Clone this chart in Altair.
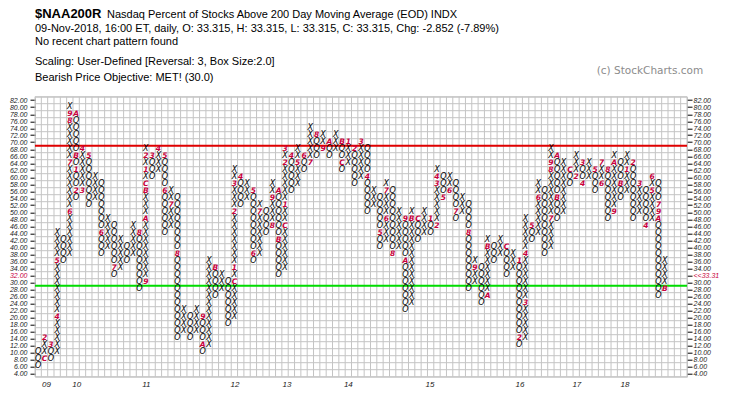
import altair as alt
import pandas as pd

# ---- point & figure columns (box size 2, reversal 3); bottom and top box of each column ----
col_type = ["O", "X"] * 50
col_low = [6, 8, 8, 10, 36, 38, 54, 56, 52, 54, 38, 40, 32, 34, 36, 38, 28, 30, 60, 62,
           44, 46, 14, 16, 14, 16, 10, 12, 26, 28, 18, 20, 52, 54, 36, 38, 44, 46, 32, 34,
           56, 58, 62, 64, 66, 68, 66, 68, 62, 64, 58, 60, 50, 52, 40, 42, 38, 40, 22, 24,
           42, 44, 44, 46, 54, 56, 48, 50, 28, 30, 24, 26, 36, 38, 32, 34, 12, 14, 42, 44,
           38, 40, 48, 50, 58, 60, 58, 60, 56, 58, 48, 50, 54, 56, 48, 50, 46, 48, 26, 28]
col_high = [10, 14, 12, 44, 42, 80, 78, 68, 66, 60, 58, 48, 46, 42, 40, 46, 44, 68, 66, 68,
            66, 56, 54, 22, 20, 22, 20, 36, 34, 32, 30, 62, 60, 58, 56, 52, 50, 58, 56, 68,
            66, 68, 66, 74, 72, 72, 70, 72, 70, 70, 68, 70, 68, 56, 54, 58, 56, 50, 48, 50,
            48, 50, 48, 62, 60, 60, 58, 54, 52, 36, 34, 42, 40, 42, 40, 38, 36, 48, 46, 58,
            56, 68, 66, 64, 62, 66, 64, 64, 62, 64, 62, 66, 64, 66, 64, 58, 56, 60, 58, 36]

# month markers: column, box value, month code (1-9, A=Oct, B=Nov, C=Dec)
mk_col = [2, 2, 3, 4, 4, 6, 6, 6, 6, 7, 7, 7, 7, 8, 8, 9, 11, 13, 17, 18, 18, 18, 18, 18,
          18, 19, 20, 21, 21, 22, 23, 27, 27, 29, 32, 32, 32, 32, 33, 35, 35, 36, 38, 38,
          39, 39, 40, 40, 40, 40, 41, 42, 43, 44, 45, 46, 47, 49, 49, 50, 51, 52, 53,
          55, 56, 56, 57, 59, 59, 60, 61, 63, 64, 64, 64, 65, 66, 67, 69, 70, 72, 72, 75,
          77, 77, 78, 78, 79, 80, 82, 82, 82, 83, 83, 85, 86, 87, 87, 89, 90, 90, 91, 92,
          92, 93, 94, 95, 96, 97, 98, 98, 99, 99, 99, 100]
mk_val = [8, 14, 12, 20, 36, 50, 64, 76, 78, 78, 66, 62, 56, 56, 68, 66, 44, 34, 44, 30,
          48, 56, 58, 62, 66, 66, 68, 66, 56, 52, 38, 20, 12, 34, 30, 34, 50, 58, 60, 56,
          38, 50, 46, 54, 56, 42, 46, 52, 64, 68, 66, 64, 66, 64, 72, 68, 70, 70, 64, 70,
          68, 70, 60, 44, 48, 56, 38, 48, 36, 48, 48, 48, 46, 58, 60, 54, 56, 50, 44, 34,
          26, 40, 40, 36, 14, 24, 38, 46, 54, 48, 62, 64, 66, 54, 62, 60, 64, 58, 62, 58,
          64, 62, 50, 64, 58, 62, 64, 58, 46, 56, 60, 52, 50, 48, 28]
mk_txt = ["C", "2", "3", "4", "5", "6", "7", "8", "9", "A", "B", "1", "2", "3", "4", "5",
          "6", "7", "8", "9", "A", "B", "C", "1", "2", "3", "4", "5", "6", "7", "8", "9",
          "A", "B", "C", "1", "2", "3", "4", "5", "6", "7", "8", "9", "A", "B", "C", "1",
          "2", "3", "4", "5", "6", "7", "8", "9", "A", "B", "C", "1", "2", "3", "4", "5",
          "6", "7", "8", "9", "A", "B", "C", "1", "2", "3", "4", "5", "6", "7", "8", "9",
          "A", "B", "C", "1", "2", "3", "4", "5", "6", "7", "8", "9", "A", "B", "C", "2",
          "3", "4", "5", "6", "7", "8", "9", "A", "B", "1", "2", "3", "4", "5", "6", "7",
          "9", "A", "B"]

year_lbl = ["09", "10", "11", "12", "13", "14", "15", "16", "17", "18"]
year_pos = [2.3, 7.1, 18.1, 32.1, 40.3, 50.0, 62.9, 77.1, 86.1, 93.7]

levels = [69, 29]
level_col = ["#e00000", "#00dd00"]

header = [
    "09-Nov-2018, 16:00 ET, daily, O: 33.315, H: 33.315, L: 33.315, C: 33.315, Chg: -2.852 (-7.89%)",
    "No recent chart pattern found",
    "Scaling: User-Defined [Reversal: 3, Box Size:2.0]",
    "Bearish Price Objective: MET! (30.0)",
]
header_y = [-65.2, -51.2, -31.7, -16.2]

# ---- build tables ----
marks = {(c, v): t for c, v, t in zip(mk_col, mk_val, mk_txt)}
rows = []
for i, (t, lo, hi) in enumerate(zip(col_type, col_low, col_high), start=1):
    for v in range(lo, hi + 1, 2):
        if (i, v) in marks:
            rows.append({"c": i, "v": v, "s": marks[(i, v)], "k": "m"})
        else:
            rows.append({"c": i, "v": v, "s": t, "k": "s"})
cells = pd.DataFrame(rows)

NCOL = 103
xs = alt.Scale(domain=[0.5, NCOL + 0.5], nice=False, zero=False)
ys = alt.Scale(domain=[3, 83], nice=False, zero=False)

vgrid = pd.DataFrame({"xb": [k + 0.5 for k in range(NCOL + 1)]})
hgrid = pd.DataFrame({"yb": [k for k in range(3, 84, 2)]})
lv = pd.DataFrame({"y": levels, "col": level_col})
yrs = pd.DataFrame({"c": year_pos, "t": year_lbl})
hd = pd.DataFrame({"t": header, "y": header_y})

GRID = "#c4c4c4"
RED = "#c8003c"
lab_font = "Liberation Sans"
yvals = list(range(4, 84, 2))
lab_color = {"condition": {"test": "datum.value == 32", "value": RED}, "value": "#222"}

vg = alt.Chart(vgrid).mark_rule(color=GRID, strokeWidth=1).encode(
    x=alt.X("xb:Q", scale=xs, axis=None))
hg = alt.Chart(hgrid).mark_rule(color=GRID, strokeWidth=1).encode(
    y=alt.Y("yb:Q", scale=ys, axis=alt.Axis(
        orient="right", values=yvals, grid=False, domain=False,
        tickSize=5, tickColor="#000", labelPadding=1,
        labelOverlap=False, labelFlush=False, labelBound=False,
        labelFont=lab_font, labelFontStyle="italic", labelFontSize=7,
        labelColor=lab_color,
        labelExpr="datum.value == 32 ? '<<33.31' : format(datum.value, '.2f')",
        labelBaseline="middle", title=None)))

lvl = alt.Chart(lv).mark_rule(strokeWidth=2).encode(
    y=alt.Y("y:Q", scale=ys, axis=None),
    color=alt.Color("col:N", scale=None))

sym = alt.Chart(cells).transform_filter("datum.k == 's'").mark_text(
    font="DejaVu Sans", fontSize=8, fontStyle="italic", color="#000",
    baseline="middle", align="center").encode(
    x=alt.X("c:Q", scale=xs, axis=None),
    y=alt.Y("v:Q", scale=ys, axis=alt.Axis(
        orient="left", values=yvals, format=".2f", grid=False, domain=False,
        tickSize=5, tickColor="#000", labelPadding=3,
        labelOverlap=False, labelFlush=False, labelBound=False,
        labelFont=lab_font, labelFontStyle="italic", labelFontSize=7,
        labelColor=lab_color, labelBaseline="middle", title=None)),
    text="s:N")

mk = alt.Chart(cells).transform_filter("datum.k == 'm'").mark_text(
    font="DejaVu Sans", fontSize=7.5, fontStyle="italic", fontWeight="bold",
    color=RED, baseline="middle", align="center").encode(
    x=alt.X("c:Q", scale=xs, axis=None),
    y=alt.Y("v:Q", scale=ys, axis=None),
    text="s:N")

yr = alt.Chart(yrs).mark_text(font=lab_font, fontSize=8, fontStyle="italic",
                              color="#222", baseline="middle", align="center").encode(
    x=alt.X("c:Q", scale=xs, axis=None), y=alt.value(288), text="t:N")

t1 = alt.Chart(pd.DataFrame({"t": ["$NAA200R"]})).mark_text(
    font="Liberation Sans", fontSize=13, fontWeight="bold", align="left",
    baseline="alphabetic", color="#000").encode(x=alt.value(0), y=alt.value(-79.2), text="t:N")
t1b = alt.Chart(pd.DataFrame({"t": ["Nasdaq Percent of Stocks Above 200 Day Moving Average (EOD)  INDX"]})).mark_text(
    font="Liberation Sans", fontSize=11, align="left", baseline="alphabetic", color="#000").encode(
    x=alt.value(72), y=alt.value(-79.2), text="t:N")
th = alt.Chart(hd).mark_text(font="Liberation Sans", fontSize=11, align="left",
                             baseline="alphabetic", color="#000").encode(
    x=alt.value(0), y=alt.Y("y:Q", scale=None), text="t:N")
cp = alt.Chart(pd.DataFrame({"t": ["(c) StockCharts.com"]})).mark_text(
    font="DejaVu Sans", fontSize=10.5, align="left", baseline="alphabetic", color="#8c8c8c").encode(
    x=alt.value(561.7), y=alt.value(-22.7), text="t:N")

chart = alt.layer(vg, hg, lvl, sym, mk, yr, t1, t1b, th, cp).resolve_axis(
    y="independent").properties(
    width=652, height=280,
    autosize=alt.AutoSizeParams(type="none"),
    padding={"left": 27, "top": 88.7, "right": 50, "bottom": 12.3},
).configure_view(stroke=GRID)

chart.save("out.html", embed_options={"renderer": "svg", "actions": False})
